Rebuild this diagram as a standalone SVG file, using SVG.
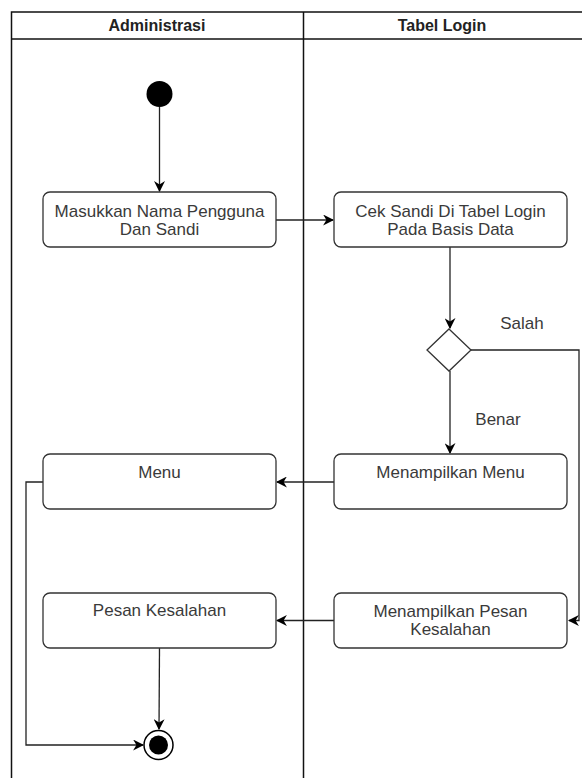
<svg xmlns="http://www.w3.org/2000/svg" width="582" height="778" viewBox="0 0 582 778">
<defs>
<marker id="arr" viewBox="0 0 10 10" refX="9" refY="5" markerWidth="11" markerHeight="11" markerUnits="userSpaceOnUse" orient="auto">
<path d="M0,0 L10,5 L0,10 L3,5 Z" fill="#000"/>
</marker>
<style>
.lane{fill:none;stroke:#111;stroke-width:1.5}
.box{fill:#fff;stroke:#333;stroke-width:1.3}
.t{font-family:"Liberation Sans",Arial,sans-serif;font-size:17px;fill:#3a3a3a;text-anchor:middle}
.h{font-family:"Liberation Sans",Arial,sans-serif;font-size:16px;font-weight:bold;fill:#222;text-anchor:middle}
.c{fill:none;stroke:#222;stroke-width:1.3}
</style>
</defs>
<rect width="582" height="778" fill="#fff"/>
<g id="lanes">
<rect class="lane" x="11.5" y="12" width="574" height="780"/>
<line class="lane" x1="11.5" y1="39" x2="586" y2="39"/>
<line class="lane" x1="303.5" y1="12" x2="303.5" y2="792"/>
<text class="h" x="157" y="31">Administrasi</text>
<text class="h" x="442" y="31">Tabel Login</text>
</g>
<g id="connectors">
<line class="c" x1="159.5" y1="107" x2="159.5" y2="191" marker-end="url(#arr)"/>
<line class="c" x1="276" y1="220" x2="333" y2="220" marker-end="url(#arr)"/>
<line class="c" x1="450" y1="247" x2="450" y2="328" marker-end="url(#arr)"/>
<line class="c" x1="450" y1="371" x2="450" y2="453" marker-end="url(#arr)"/>
<polyline class="c" points="471,350 579,350 579,620.5 569,620.5" marker-end="url(#arr)"/>
<line class="c" x1="334" y1="482" x2="277" y2="482" marker-end="url(#arr)"/>
<line class="c" x1="334" y1="620.5" x2="277" y2="620.5" marker-end="url(#arr)"/>
<polyline class="c" points="43,482 26,482 26,745 143,745" marker-end="url(#arr)"/>
<line class="c" x1="159.5" y1="648" x2="159" y2="729" marker-end="url(#arr)"/>
<text class="t" x="522" y="329">Salah</text>
<text class="t" x="498" y="425">Benar</text>
</g>
<g id="start"><circle cx="159.5" cy="94" r="13" fill="#000"/></g>
<g id="masukkan">
<rect class="box" x="43" y="192" width="233" height="55" rx="7"/>
<text class="t" x="159.5" y="217">Masukkan Nama Pengguna</text>
<text class="t" x="159.5" y="235">Dan Sandi</text>
</g>
<g id="cek">
<rect class="box" x="334" y="192" width="233" height="55" rx="7"/>
<text class="t" x="450.5" y="217">Cek Sandi Di Tabel Login</text>
<text class="t" x="450.5" y="235">Pada Basis Data</text>
</g>
<g id="decision">
<polygon class="box" points="449,329 471,350 449,371 427,350"/>
</g>
<g id="menu">
<rect class="box" x="43" y="454" width="233" height="55" rx="7"/>
<text class="t" x="159.5" y="478">Menu</text>
</g>
<g id="tampilmenu">
<rect class="box" x="334" y="454" width="233" height="55" rx="7"/>
<text class="t" x="450.5" y="478">Menampilkan Menu</text>
</g>
<g id="pesan">
<rect class="box" x="43" y="593" width="233" height="55" rx="7"/>
<text class="t" x="159.5" y="616">Pesan Kesalahan</text>
</g>
<g id="tampilpesan">
<rect class="box" x="334" y="593" width="233" height="55" rx="7"/>
<text class="t" x="450.5" y="617">Menampilkan Pesan</text>
<text class="t" x="450.5" y="635">Kesalahan</text>
</g>
<g id="end">
<circle cx="158.5" cy="745" r="14.5" fill="#fff" stroke="#000" stroke-width="1.5"/>
<circle cx="158.5" cy="745" r="9.5" fill="#000"/>
</g>
</svg>
